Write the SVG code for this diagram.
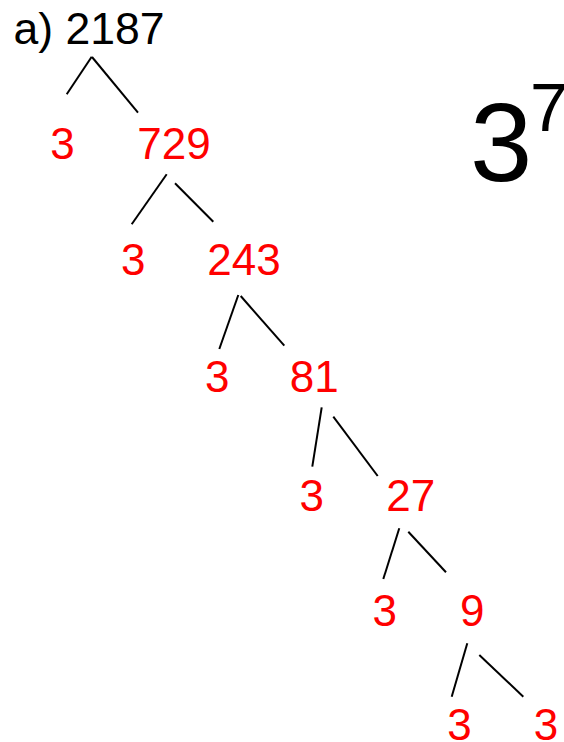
<svg xmlns="http://www.w3.org/2000/svg" width="564" height="742" viewBox="0 0 564 742">
<style>
text{font-family:"Liberation Sans",Arial,sans-serif}
.r{fill:#ff0000;font-size:44px;text-anchor:middle}
.k{fill:#000}
#connectors line{stroke:#000;stroke-width:2;stroke-linecap:butt}
</style>
<rect width="564" height="742" fill="#fff"/>
<g id="connectors">
<line x1="91.7" y1="56.7" x2="66.7" y2="94.3"/>
<line x1="92" y1="57" x2="138" y2="112.7"/>
<line x1="166.7" y1="174.3" x2="131.7" y2="224.3"/>
<line x1="175" y1="183.3" x2="213.3" y2="221.7"/>
<line x1="238.3" y1="295" x2="219.3" y2="349"/>
<line x1="240.7" y1="296" x2="284.3" y2="345.7"/>
<line x1="321.7" y1="407.3" x2="312.3" y2="466.7"/>
<line x1="333.3" y1="416.7" x2="377.7" y2="476"/>
<line x1="399.3" y1="528.3" x2="383.3" y2="579"/>
<line x1="408.3" y1="531.7" x2="446" y2="572.3"/>
<line x1="467.3" y1="643.3" x2="451.7" y2="696.7"/>
<line x1="479.3" y1="655" x2="523.3" y2="696.7"/>
</g>
<g id="n2187"><text class="k" x="13.5" y="44" font-size="44" textLength="151" lengthAdjust="spacingAndGlyphs">a) 2187</text></g>
<g id="n3a"><text class="r" x="62.5" y="159">3</text></g>
<g id="n729"><text class="r" x="174" y="159">729</text></g>
<g id="n3b"><text class="r" x="133.3" y="275">3</text></g>
<g id="n243"><text class="r" x="244" y="275">243</text></g>
<g id="n3c"><text class="r" x="217.3" y="391.5">3</text></g>
<g id="n81"><text class="r" x="314.3" y="391.5">81</text></g>
<g id="n3d"><text class="r" x="311.7" y="511">3</text></g>
<g id="n27"><text class="r" x="410.7" y="511">27</text></g>
<g id="n3e"><text class="r" x="384.8" y="626">3</text></g>
<g id="n9"><text class="r" x="472.2" y="626">9</text></g>
<g id="n3f"><text class="r" x="459.5" y="740">3</text></g>
<g id="n3g"><text class="r" x="546" y="740">3</text></g>
<g id="power"><text class="k" x="470" y="181" font-size="112">3</text><text class="k" x="530" y="131" font-size="68">7</text></g>
</svg>
